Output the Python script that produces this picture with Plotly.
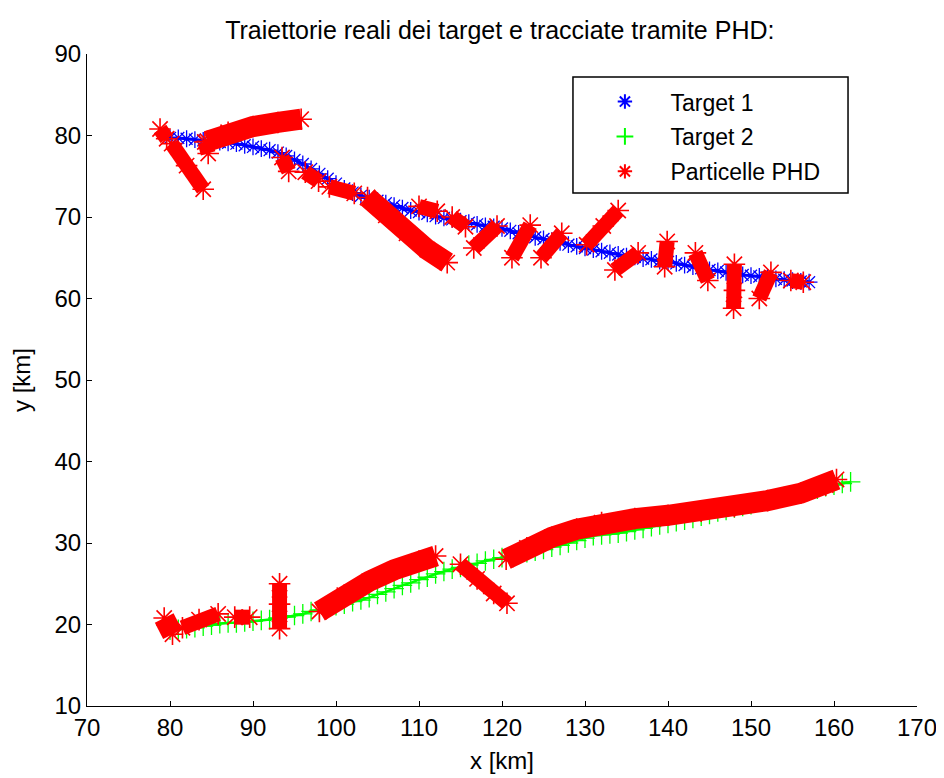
import plotly.graph_objects as go

# ---- Data ----
t1_x = list(range(80, 158))
t1_y = [79.7, 79.7, 79.6, 79.5, 79.4, 79.3, 79.2, 79.1, 79.0, 78.8,
        78.6, 78.4, 78.2, 77.9, 77.5, 77.0, 76.5, 75.9, 75.3, 74.7,
        74.1, 73.5, 73.0, 72.6, 72.3, 72.0, 71.7, 71.4, 71.1, 70.8,
        70.6, 70.4, 70.1, 69.9, 69.7, 69.5, 69.3, 69.1, 68.9, 68.8,
        68.6, 68.3, 68.0, 67.8, 67.5, 67.3, 67.1, 66.9, 66.6, 66.4,
        66.2, 66.0, 65.8, 65.6, 65.4, 65.2, 65.1, 64.9, 64.8, 64.6,
        64.5, 64.3, 64.1, 63.9, 63.7, 63.5, 63.4, 63.2, 63.1, 62.9,
        62.8, 62.7, 62.6, 62.4, 62.3, 62.2, 62.1, 62.0]

t2_x = list(range(80, 163))
t2_y = [19.3, 19.4, 19.5, 19.6, 19.8, 19.9, 20.1, 20.2, 20.2, 20.3,
        20.4, 20.5, 20.6, 20.8, 20.9, 21.1, 21.3, 21.6, 21.8, 22.0,
        22.3, 22.5, 22.8, 23.0, 23.3, 23.7, 24.0, 24.4, 24.8, 25.1,
        25.5, 25.8, 26.2, 26.5, 26.8, 27.0, 27.3, 27.5, 27.8, 28.0,
        28.2, 28.4, 28.6, 28.8, 29.0, 29.2, 29.5, 29.7, 30.0, 30.3,
        30.6, 30.9, 31.0, 31.1, 31.2, 31.4, 31.6, 31.8, 32.0, 32.2,
        32.4, 32.6, 32.8, 33.0, 33.3, 33.5, 33.8, 34.0, 34.3, 34.5,
        34.7, 35.0, 35.2, 35.4, 35.7, 35.9, 36.1, 36.4, 36.6, 36.9,
        37.1, 37.3, 37.5]

# PHD particle clouds (streaks), clusters separated by None
phd_thick_x = [84.5, 87, 90, 93, 95.8, None,
               103.8, 106, 108.5, 111, 113.4, None,
               79.3, 80.3, None,
               98, 101, 104, 107, 110, 112, None,
               120.5, 123, 126, 129, 132, 136, 140, 144, 148, 152, 156, 159, 160.3]
phd_thick_y = [79.3, 80.4, 81.1, 81.6, 82.0, None,
               72.4, 70.2, 68.0, 66.0, 64.4, None,
               20.8, 18.8, None,
               21.6, 23.6, 25.3, 26.7, 27.8, 28.4, None,
               28.0, 29.4, 30.7, 31.7, 32.5, 33.0, 33.4, 33.9, 34.5, 35.2, 36.1, 37.1, 37.8]

phd_x = [78.8, 79.6, None,
         80.2, 82, 84, None,
         84.2, 84.6, None,
         93.5, 94.3, None,
         96.3, 97.9, None,
         99.2, 102.2, None,
         110, 112.2, None,
         114, 115.6, None,
         116.6, 119.4, None,
         121.2, 123.4, None,
         124.7, 127.2, None,
         130.2, 132.2, 134.0, None,
         133.6, 136.4, None,
         139.6, 139.9, None,
         143.3, 144.8, None,
         148, 148, 147.9, None,
         151.0, 152.4, None,
         154.8, 156.3, None,
         81.5, 83.5, 85.8, None,
         87.8, 89.6, None,
         93.2, 93.2, 93.2, None,
         115, 117, 119, 120.6]
phd_y = [80.8, 79.6, None,
         79.0, 76.3, 73.4, None,
         79.2, 77.8, None,
         77.3, 75.6, None,
         75.5, 74.4, None,
         73.7, 72.9, None,
         71.3, 70.7, None,
         70.0, 68.8, None,
         66.2, 68.9, None,
         65.0, 69.0, None,
         65.0, 68.0, None,
         66.6, 68.9, 70.8, None,
         63.5, 65.6, None,
         63.9, 67.0, None,
         65.6, 62.2, None,
         64.2, 61.0, 58.8, None,
         60.0, 63.2, None,
         62.2, 62.0, None,
         19.6, 20.6, 21.3, None,
         20.9, 20.9, None,
         19.5, 22.5, 25.0, None,
         27.4, 25.6, 23.8, 22.6]

x_ticks = [70, 80, 90, 100, 110, 120, 130, 140, 150, 160, 170]
y_ticks = [10, 20, 30, 40, 50, 60, 70, 80, 90]

RED = "#FF0000"
BLUE = "#0000FF"
GREEN = "#00FF00"
FONT = "Liberation Sans, Arial, sans-serif"
NB = "\u00a0"

fig = go.Figure()

# track bands (no legend entries)
fig.add_trace(go.Scatter(
    x=t1_x, y=t1_y, mode="lines", showlegend=False, legendgroup="g1",
    hoverinfo="skip", line=dict(color=BLUE, width=3)))
fig.add_trace(go.Scatter(
    x=t2_x, y=t2_y, mode="lines", showlegend=False, legendgroup="g2",
    hoverinfo="skip", line=dict(color=GREEN, width=2.5)))

fig.add_trace(go.Scatter(
    x=t1_x, y=t1_y, mode="markers", name=NB * 4 + "Target 1",
    legendgroup="g1",
    marker=dict(symbol="asterisk-open", size=14, color=BLUE,
                line=dict(color=BLUE, width=1.3))))

fig.add_trace(go.Scatter(
    x=t2_x, y=t2_y, mode="markers", name=NB * 4 + "Target 2",
    legendgroup="g2",
    marker=dict(symbol="cross-thin-open", size=14, color=GREEN,
                line=dict(color=GREEN, width=1.3))))

fig.add_trace(go.Scatter(
    x=phd_thick_x, y=phd_thick_y, mode="lines", showlegend=False,
    legendgroup="g3", hoverinfo="skip", connectgaps=False,
    line=dict(color=RED, width=21)))

fig.add_trace(go.Scatter(
    x=phd_x, y=phd_y, mode="lines", showlegend=False,
    legendgroup="g3", hoverinfo="skip", connectgaps=False,
    line=dict(color=RED, width=15)))

all_px = phd_thick_x + [None] + phd_x
all_py = phd_thick_y + [None] + phd_y
fig.add_trace(go.Scatter(
    x=all_px, y=all_py, mode="markers", name=NB * 4 + "Particelle PHD",
    legendgroup="g3",
    marker=dict(symbol="asterisk-open", size=18, color=RED,
                line=dict(color=RED, width=1.6))))

axis_common = dict(
    showline=True, linecolor="black", linewidth=1,
    ticks="inside", ticklen=5, tickcolor="black",
    showgrid=False, zeroline=False, mirror=False, automargin=False,
    tickfont=dict(family=FONT, size=24, color="black"),
)

# legend frame (drawn as a shape so the entries can sit where they do in the reference)
fig.add_shape(type="rect", xref="paper", yref="paper",
              x0=0.5855, x1=0.9169, y0=0.7868, y1=0.9647,
              line=dict(color="black", width=1.5), fillcolor="white", layer="below")

fig.update_layout(
    width=944, height=778,
    margin=dict(l=79, r=35, t=46, b=80, autoexpand=False),
    paper_bgcolor="white", plot_bgcolor="white",
    font=dict(family=FONT, color="black"),
    title=dict(text="Traiettorie reali dei target e tracciate tramite PHD:",
               x=0.521, xanchor="center", y=0.9717, yanchor="middle",
               font=dict(family=FONT, size=25, color="black")),
    xaxis=dict(range=[70, 170], tickvals=x_ticks,
               ticktext=[str(v) for v in x_ticks],
               title=dict(text="x [km]", standoff=12,
                          font=dict(family=FONT, size=24, color="black")),
               **axis_common),
    yaxis=dict(range=[10, 90], tickvals=y_ticks,
               ticktext=[str(v) for v in y_ticks],
               title=dict(text="y [km]", standoff=19,
                          font=dict(family=FONT, size=24, color="black")),
               **axis_common),
    legend=dict(x=0.624, y=0.960, xanchor="left", yanchor="top",
                bgcolor="rgba(0,0,0,0)", borderwidth=0,
                font=dict(family=FONT, size=23, color="black"),
                itemsizing="constant", tracegroupgap=2),
    showlegend=True,
)

fig.write_html("out.html")
